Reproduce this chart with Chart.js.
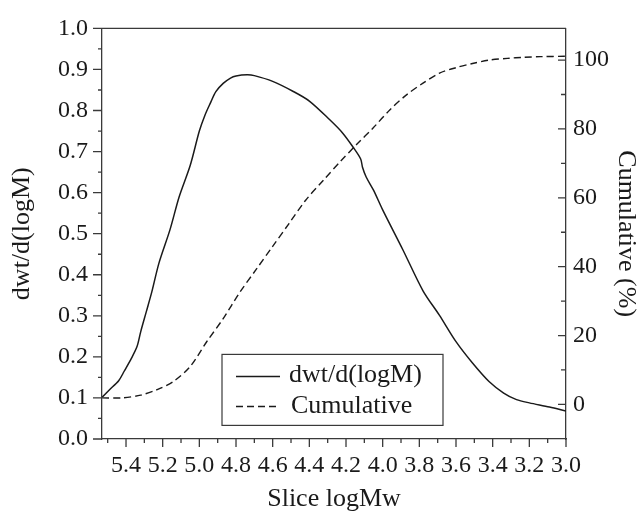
<!DOCTYPE html>
<html>
<head>
<meta charset="utf-8">
<script src="https://cdn.jsdelivr.net/npm/chart.js@4"></script>
<style>
  html, body { margin: 0; padding: 0; background: #fff; }
</style>
</head>
<body>
<canvas id="grafica" width="642" height="513"></canvas>
<script>
// dwt/d(logM) curve (left axis)
const logMDwt = [5.53, 5.49, 5.44, 5.41, 5.37, 5.34, 5.32, 5.29, 5.26, 5.22, 5.16, 5.11, 5.05, 5.00, 4.97, 4.94, 4.91, 4.87, 4.83, 4.80, 4.74, 4.70, 4.60, 4.49, 4.40, 4.29, 4.22, 4.16, 4.12, 4.11, 4.09, 4.05, 4.00, 3.89, 3.78, 3.69, 3.60, 3.51, 3.42, 3.34, 3.27, 3.20, 3.09, 3.00];
const dwt = [0.102, 0.120, 0.142, 0.165, 0.197, 0.225, 0.261, 0.309, 0.357, 0.429, 0.510, 0.590, 0.666, 0.750, 0.788, 0.818, 0.846, 0.866, 0.879, 0.884, 0.887, 0.885, 0.871, 0.847, 0.823, 0.778, 0.746, 0.710, 0.682, 0.662, 0.638, 0.606, 0.558, 0.461, 0.361, 0.301, 0.237, 0.185, 0.140, 0.112, 0.096, 0.088, 0.078, 0.068];

// cumulative curve (right axis, %)
const logMCum = [5.53, 5.42, 5.32, 5.23, 5.14, 5.05, 4.96, 4.87, 4.78, 4.69, 4.60, 4.51, 4.42, 4.32, 4.23, 4.14, 4.05, 3.96, 3.87, 3.78, 3.69, 3.60, 3.51, 3.42, 3.32, 3.23, 3.14, 3.00];
const cumulative = [1.9, 1.9, 2.7, 4.3, 6.7, 11.0, 18.2, 24.9, 32.5, 39.2, 45.9, 52.6, 59.3, 65.3, 70.6, 75.6, 80.4, 85.6, 89.9, 93.3, 96.2, 97.8, 99.0, 100.0, 100.5, 100.8, 101.0, 101.1];

// tick labels
const xTicks = [5.4, 5.2, 5.0, 4.8, 4.6, 4.4, 4.2, 4.0, 3.8, 3.6, 3.4, 3.2, 3.0];
const xMinor = [5.5, 5.3, 5.1, 4.9, 4.7, 4.5, 4.3, 4.1, 3.9, 3.7, 3.5, 3.3, 3.1];
const leftTicks = [0.0, 0.1, 0.2, 0.3, 0.4, 0.5, 0.6, 0.7, 0.8, 0.9, 1.0];
const leftMinor = [0.05, 0.15, 0.25, 0.35, 0.45, 0.55, 0.65, 0.75, 0.85, 0.95];
const rightTicks = [0, 20, 40, 60, 80, 100];
const rightMinor = [10, 30, 50, 70, 90];

const axisColor = '#3a3a3a';
const inkColor = '#1a1a1a';
const serif = 'Liberation Serif';

// ticks, top frame and the boxed legend
const marcas = {
    id: 'marcas',
    afterDraw(chart) {
        const { ctx, chartArea: a, scales } = chart;
        ctx.save();
        ctx.strokeStyle = axisColor;
        ctx.lineWidth = 1.3;
        ctx.beginPath();
        ctx.moveTo(a.left, a.top); ctx.lineTo(a.right, a.top);

        xTicks.forEach(v => { const p = scales.x.getPixelForValue(v); ctx.moveTo(p, a.bottom); ctx.lineTo(p, a.bottom + 8); });
        xMinor.forEach(v => { const p = scales.x.getPixelForValue(v); ctx.moveTo(p, a.bottom); ctx.lineTo(p, a.bottom + 4); });
        leftTicks.forEach(v => { const p = scales.y.getPixelForValue(v); ctx.moveTo(a.left - 9, p); ctx.lineTo(a.left, p); });
        leftMinor.forEach(v => { const p = scales.y.getPixelForValue(v); ctx.moveTo(a.left - 4, p); ctx.lineTo(a.left, p); });
        rightTicks.forEach(v => { const p = scales.y2.getPixelForValue(v); ctx.moveTo(a.right - 8, p); ctx.lineTo(a.right, p); });
        rightMinor.forEach(v => { const p = scales.y2.getPixelForValue(v); ctx.moveTo(a.right - 5, p); ctx.lineTo(a.right, p); });
        ctx.stroke();

        // legend
        const bx = a.left + 120, by = a.top + 326, bw = 221, bh = 71;
        ctx.lineWidth = 1.2;
        ctx.strokeRect(bx, by, bw, bh);
        ctx.strokeStyle = inkColor;
        ctx.lineWidth = 1.5;
        ctx.beginPath();
        ctx.moveTo(bx + 14, by + 22); ctx.lineTo(bx + 58, by + 22);
        ctx.stroke();
        ctx.setLineDash([7, 4]);
        ctx.beginPath();
        ctx.moveTo(bx + 14, by + 52); ctx.lineTo(bx + 58, by + 52);
        ctx.stroke();
        ctx.setLineDash([]);
        ctx.fillStyle = inkColor;
        ctx.font = '26px "' + serif + '"';
        ctx.textBaseline = 'alphabetic';
        ctx.textAlign = 'left';
        ctx.fillText('dwt/d(logM)', bx + 67, by + 28);
        ctx.fillText('Cumulative', bx + 69, by + 59);
        ctx.restore();
    }
};

let ctx = document.getElementById('grafica').getContext('2d');
new Chart(ctx, {
    type: 'line',
    data: {
        datasets: [
            {
                label: 'dwt/d(logM)',
                data: logMDwt.map((x, i) => ({ x: x, y: dwt[i] })),
                yAxisID: 'y',
                borderColor: inkColor,
                borderWidth: 1.5,
                pointRadius: 0,
                tension: 0.3,
                fill: false
            },
            {
                label: 'Cumulative',
                data: logMCum.map((x, i) => ({ x: x, y: cumulative[i] })),
                yAxisID: 'y2',
                borderColor: inkColor,
                borderWidth: 1.4,
                borderDash: [7, 4],
                pointRadius: 0,
                tension: 0.3,
                fill: false
            }
        ]
    },
    options: {
        responsive: false,
        animation: false,
        layout: { padding: { top: 23, left: 0, right: 0, bottom: 0 } },
        plugins: { legend: { display: false }, tooltip: { enabled: false } },
        scales: {
            x: {
                type: 'linear',
                reverse: true,
                min: 3.0,
                max: 5.531,
                afterBuildTicks: s => { s.ticks = xTicks.map(v => ({ value: v })); },
                afterFit: s => { s.height = 74; },
                grid: { display: false, drawTicks: false },
                border: { display: true, color: axisColor, width: 1.3 },
                ticks: {
                    padding: 12,
                    maxRotation: 0,
                    autoSkip: false,
                    color: inkColor,
                    font: { family: serif, size: 24 },
                    callback: v => Number(v).toFixed(1)
                },
                title: {
                    display: true,
                    text: 'Slice logMw',
                    color: inkColor,
                    font: { family: serif, size: 26, lineHeight: 1.1 },
                    padding: { top: 0, bottom: 0 }
                }
            },
            y: {
                position: 'left',
                min: 0,
                max: 1,
                afterBuildTicks: s => { s.ticks = leftTicks.map(v => ({ value: v })); },
                afterFit: s => { s.width = 102; },
                grid: { display: false, drawTicks: false },
                border: { display: true, color: axisColor, width: 1.3 },
                ticks: {
                    padding: 14,
                    autoSkip: false,
                    color: inkColor,
                    font: { family: serif, size: 24 },
                    callback: v => Number(v).toFixed(1)
                },
                title: {
                    display: true,
                    text: 'dwt/d(logM)',
                    color: inkColor,
                    font: { family: serif, size: 26 },
                    padding: { top: 7, bottom: 0 }
                }
            },
            y2: {
                position: 'right',
                min: -10.05,
                max: 109.2,
                afterBuildTicks: s => { s.ticks = rightTicks.map(v => ({ value: v })); },
                afterFit: s => { s.width = 76; },
                grid: { display: false, drawTicks: false },
                border: { display: true, color: axisColor, width: 1.3 },
                ticks: {
                    padding: 7,
                    autoSkip: false,
                    color: inkColor,
                    font: { family: serif, size: 24 },
                    callback: v => String(v)
                },
                title: {
                    display: true,
                    text: 'Cumulative (%)',
                    color: inkColor,
                    font: { family: serif, size: 26 },
                    padding: { top: 1, bottom: 0 }
                }
            }
        }
    },
    plugins: [marcas]
});
</script>
</body>
</html>
